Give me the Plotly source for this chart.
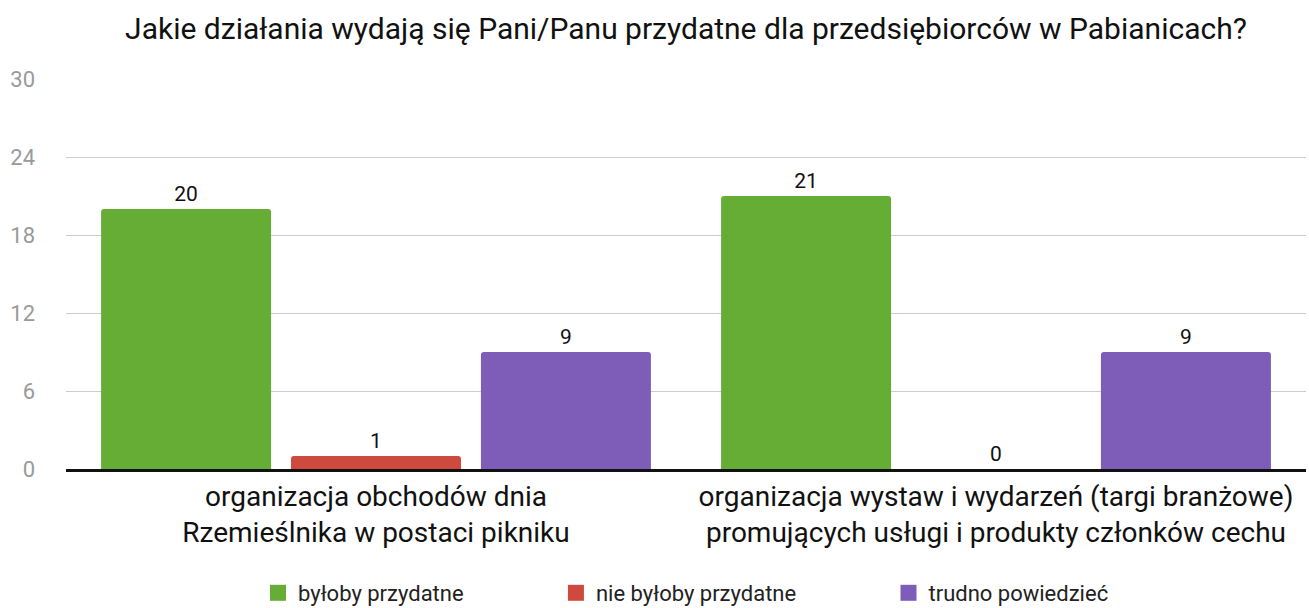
import plotly.graph_objects as go

categories = [
    "organizacja obchodów dnia<br>Rzemieślnika w postaci pikniku",
    "organizacja wystaw i wydarzeń (targi branżowe)<br>promujących usługi i produkty członków cechu",
]
series_names = ["byłoby przydatne", "nie byłoby przydatne", "trudno powiedzieć"]
series_values = [
    [20, 21],
    [1, 0],
    [9, 9],
]
series_colors = ["#66ad35", "#cf4a3e", "#7e5db8"]
y_ticks = [0, 6, 12, 18, 24, 30]
title_text = "Jakie działania wydają się Pani/Panu przydatne dla przedsiębiorców w Pabianicach?"

FONT = "Roboto"
NBSP = "\u00a0"
legend_pad = [16, 16, 0]

fig = go.Figure()
for name, vals, col in zip(series_names, series_values, series_colors):
    fig.add_trace(go.Bar(
        name=name,
        x=categories,
        y=vals,
        marker=dict(color=col, line=dict(width=0), cornerradius=3),
        text=[str(v) for v in vals],
        textposition="outside",
        textfont=dict(family=FONT, size=21, color="#111111"),
        cliponaxis=False,
        showlegend=False,
    ))

# legend entries (square swatches)
for name, col, pad in zip(series_names, series_colors, legend_pad):
    fig.add_trace(go.Scatter(
        name=name + NBSP * pad,
        x=[None], y=[None],
        mode="markers",
        marker=dict(symbol="square", size=16, color=col),
        showlegend=True,
        hoverinfo="skip",
    ))

fig.update_layout(
    width=1309,
    height=608,
    margin=dict(l=66, r=3, t=79, b=139),
    paper_bgcolor="white",
    plot_bgcolor="white",
    barmode="group",
    bargap=0.081,
    bargroupgap=0.105,
    title=dict(
        text=title_text,
        x=0.5, xref="paper", xanchor="center",
        y=1 - 28 / 608, yref="container", yanchor="middle",
        font=dict(family=FONT, size=30, color="#111111"),
    ),
    font=dict(family=FONT),
    showlegend=True,
    legend=dict(
        orientation="h",
        x=258 / 1309, xref="container", xanchor="left",
        y=(608 - 593) / 608, yref="container", yanchor="middle",
        font=dict(family=FONT, size=22, color="#222222"),
        itemwidth=30,
        traceorder="normal",
        bgcolor="rgba(0,0,0,0)",
    ),
)
fig.update_yaxes(
    range=[0, 30],
    tickvals=y_ticks,
    showgrid=True,
    gridcolor="#cccccc",
    gridwidth=1,
    zeroline=False,
    showline=False,
    tickfont=dict(family=FONT, size=22, color="#9a9a9a"),
    ticklabelstandoff=30,
    automargin=False,
)
fig.update_xaxes(
    showline=True,
    linecolor="#111111",
    linewidth=3,
    tickfont=dict(family=FONT, size=28, color="#111111"),
    ticks="",
    automargin=False,
)

fig.write_html(
    "out.html",
    config={"displayModeBar": False},
    post_script="document.body.style.margin='0';",
)
